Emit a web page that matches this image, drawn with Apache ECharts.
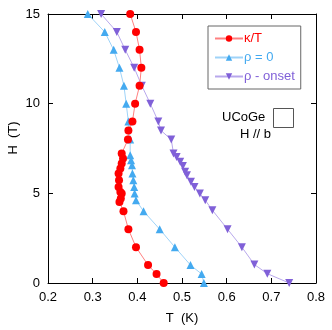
<!DOCTYPE html>
<html>
<head>
<meta charset="utf-8">
<script src="https://cdn.jsdelivr.net/npm/echarts@6/dist/echarts.min.js"></script>
<style>
  html, body { margin: 0; padding: 0; background: #fff; }
  #chart { width: 332px; height: 330px; }
</style>
</head>
<body>
<div id="chart"></div>
<script>
// T (K) values and field H (T) for each curve
var kappaT = [0.459, 0.443, 0.424, 0.397, 0.380, 0.369, 0.360, 0.363, 0.365, 0.362, 0.358, 0.359, 0.358, 0.362, 0.365, 0.368, 0.365, 0.379, 0.380, 0.389, 0.395, 0.405, 0.409, 0.405, 0.397, 0.384]
var kappaH = [0, 0.5, 1, 2, 3, 4, 4.52, 4.71, 4.99, 5.08, 5.36, 5.73, 6.1, 6.39, 6.66, 6.94, 7.22, 8, 8.5, 9, 10, 11, 12, 13, 14, 15]

var rho0T = [0.549, 0.544, 0.519, 0.484, 0.450, 0.414, 0.397, 0.394, 0.393, 0.391, 0.389, 0.388, 0.386, 0.384, 0.384, 0.380, 0.375, 0.370, 0.360, 0.347, 0.327, 0.289]
var rho0H = [0, 0.5, 1, 2, 3, 4, 4.62, 4.99, 5.36, 5.73, 6.1, 6.57, 6.85, 7.13, 8, 9, 10, 11, 12, 13, 14, 15]

var onsetT = [0.740, 0.691, 0.662, 0.634, 0.602, 0.568, 0.552, 0.540, 0.528, 0.520, 0.511, 0.507, 0.502, 0.496, 0.488, 0.481, 0.476, 0.453, 0.447, 0.429, 0.410, 0.393, 0.373, 0.354, 0.319]
var onsetH = [0, 0.52, 1.03, 2, 3, 4.06, 4.62, 4.99, 5.36, 5.64, 6.01, 6.2, 6.52, 6.76, 7.03, 7.22, 8, 8.5, 9, 10, 11, 12, 13, 14, 15]

var xTicks = [0.2, 0.3, 0.4, 0.5, 0.6, 0.7, 0.8]
var yTicks = [0, 5, 10, 15]

function pairs(xs, ys) {
  return xs.map(function (x, i) { return [x, ys[i]] })
}

var font = 'Arial, "Liberation Sans", sans-serif'
var chart = echarts.init(document.getElementById('chart'))

var xBase = {
  type: 'value',
  min: xTicks[0],
  max: xTicks[xTicks.length - 1],
  interval: 0.1,
  axisLine: { show: true, onZero: false, lineStyle: { color: '#000', width: 1 } },
  axisTick: { show: true, inside: true, length: 5, lineStyle: { color: '#000' } },
  splitLine: { show: false }
}
var yBase = {
  type: 'value',
  min: yTicks[0],
  max: yTicks[yTicks.length - 1],
  interval: 5,
  axisLine: { show: true, onZero: false, lineStyle: { color: '#000', width: 1 } },
  axisTick: { show: true, inside: true, length: 5, lineStyle: { color: '#000' } },
  splitLine: { show: false }
}

chart.setOption({
  animation: false,
  textStyle: { fontFamily: font },
  grid: { left: 48, right: 16, top: 14, bottom: 47, containLabel: false, outerBoundsMode: 'none' },
  legend: {
    orient: 'vertical',
    left: 208,
    top: 26,
    width: 92,
    padding: [6, 6, 6, 6],
    itemGap: 6,
    itemWidth: 28,
    itemHeight: 8,
    borderColor: '#666',
    borderWidth: 1,
    data: [
      { name: 'κ/T', textStyle: { color: '#ff0000' } },
      { name: 'ρ = 0', textStyle: { color: '#44aaf0' } },
      { name: 'ρ - onset', textStyle: { color: '#8060d8' } }
    ],
    textStyle: { fontSize: 13, fontFamily: font, padding: [0, 0, 0, -4] }
  },
  xAxis: [
    Object.assign({}, xBase, {
      position: 'bottom',
      name: 'T  (K)',
      nameLocation: 'middle',
      nameGap: 29,
      nameTextStyle: { fontSize: 13, color: '#000' },
      axisLabel: { fontSize: 13, color: '#000', margin: 8 }
    }),
    Object.assign({}, xBase, { position: 'top', axisLabel: { show: false } })
  ],
  yAxis: [
    Object.assign({}, yBase, {
      position: 'left',
      axisLabel: { fontSize: 13, color: '#000', margin: 8 }
    }),
    Object.assign({}, yBase, { position: 'right', axisLabel: { show: false } })
  ],
  graphic: [
    {
      type: 'text', x: 13, y: 138, rotation: Math.PI / 2,
      style: { text: 'H  (T)', fontSize: 13, fontFamily: font, fill: '#000', align: 'center', verticalAlign: 'middle' }
    },
    { type: 'text', left: 222, top: 111, style: { text: 'UCoGe', fontSize: 13, fontFamily: font, fill: '#000' } },
    { type: 'text', left: 240, top: 128, style: { text: 'H // b', fontSize: 13, fontFamily: font, fill: '#000' } },
    { type: 'rect', shape: { x: 273.5, y: 108.5, width: 20, height: 19 }, style: { fill: 'none', stroke: '#555', lineWidth: 1 } }
  ],
  series: [
    {
      name: 'κ/T',
      type: 'line',
      data: pairs(kappaT, kappaH),
      symbol: 'circle',
      symbolSize: 8,
      itemStyle: { color: '#ff0000' },
      lineStyle: { color: '#ff8080', width: 1 },
      z: 4
    },
    {
      name: 'ρ = 0',
      type: 'line',
      data: pairs(rho0T, rho0H),
      symbol: 'triangle',
      symbolSize: 8,
      itemStyle: { color: '#44aaf0' },
      lineStyle: { color: '#9fd3f8', width: 1 },
      z: 3
    },
    {
      name: 'ρ - onset',
      type: 'line',
      data: pairs(onsetT, onsetH),
      symbol: 'triangle',
      symbolRotate: 180,
      symbolSize: 8,
      itemStyle: { color: '#8060d8' },
      lineStyle: { color: '#b8a8ec', width: 1 },
      z: 2
    }
  ]
})
</script>
</body>
</html>
